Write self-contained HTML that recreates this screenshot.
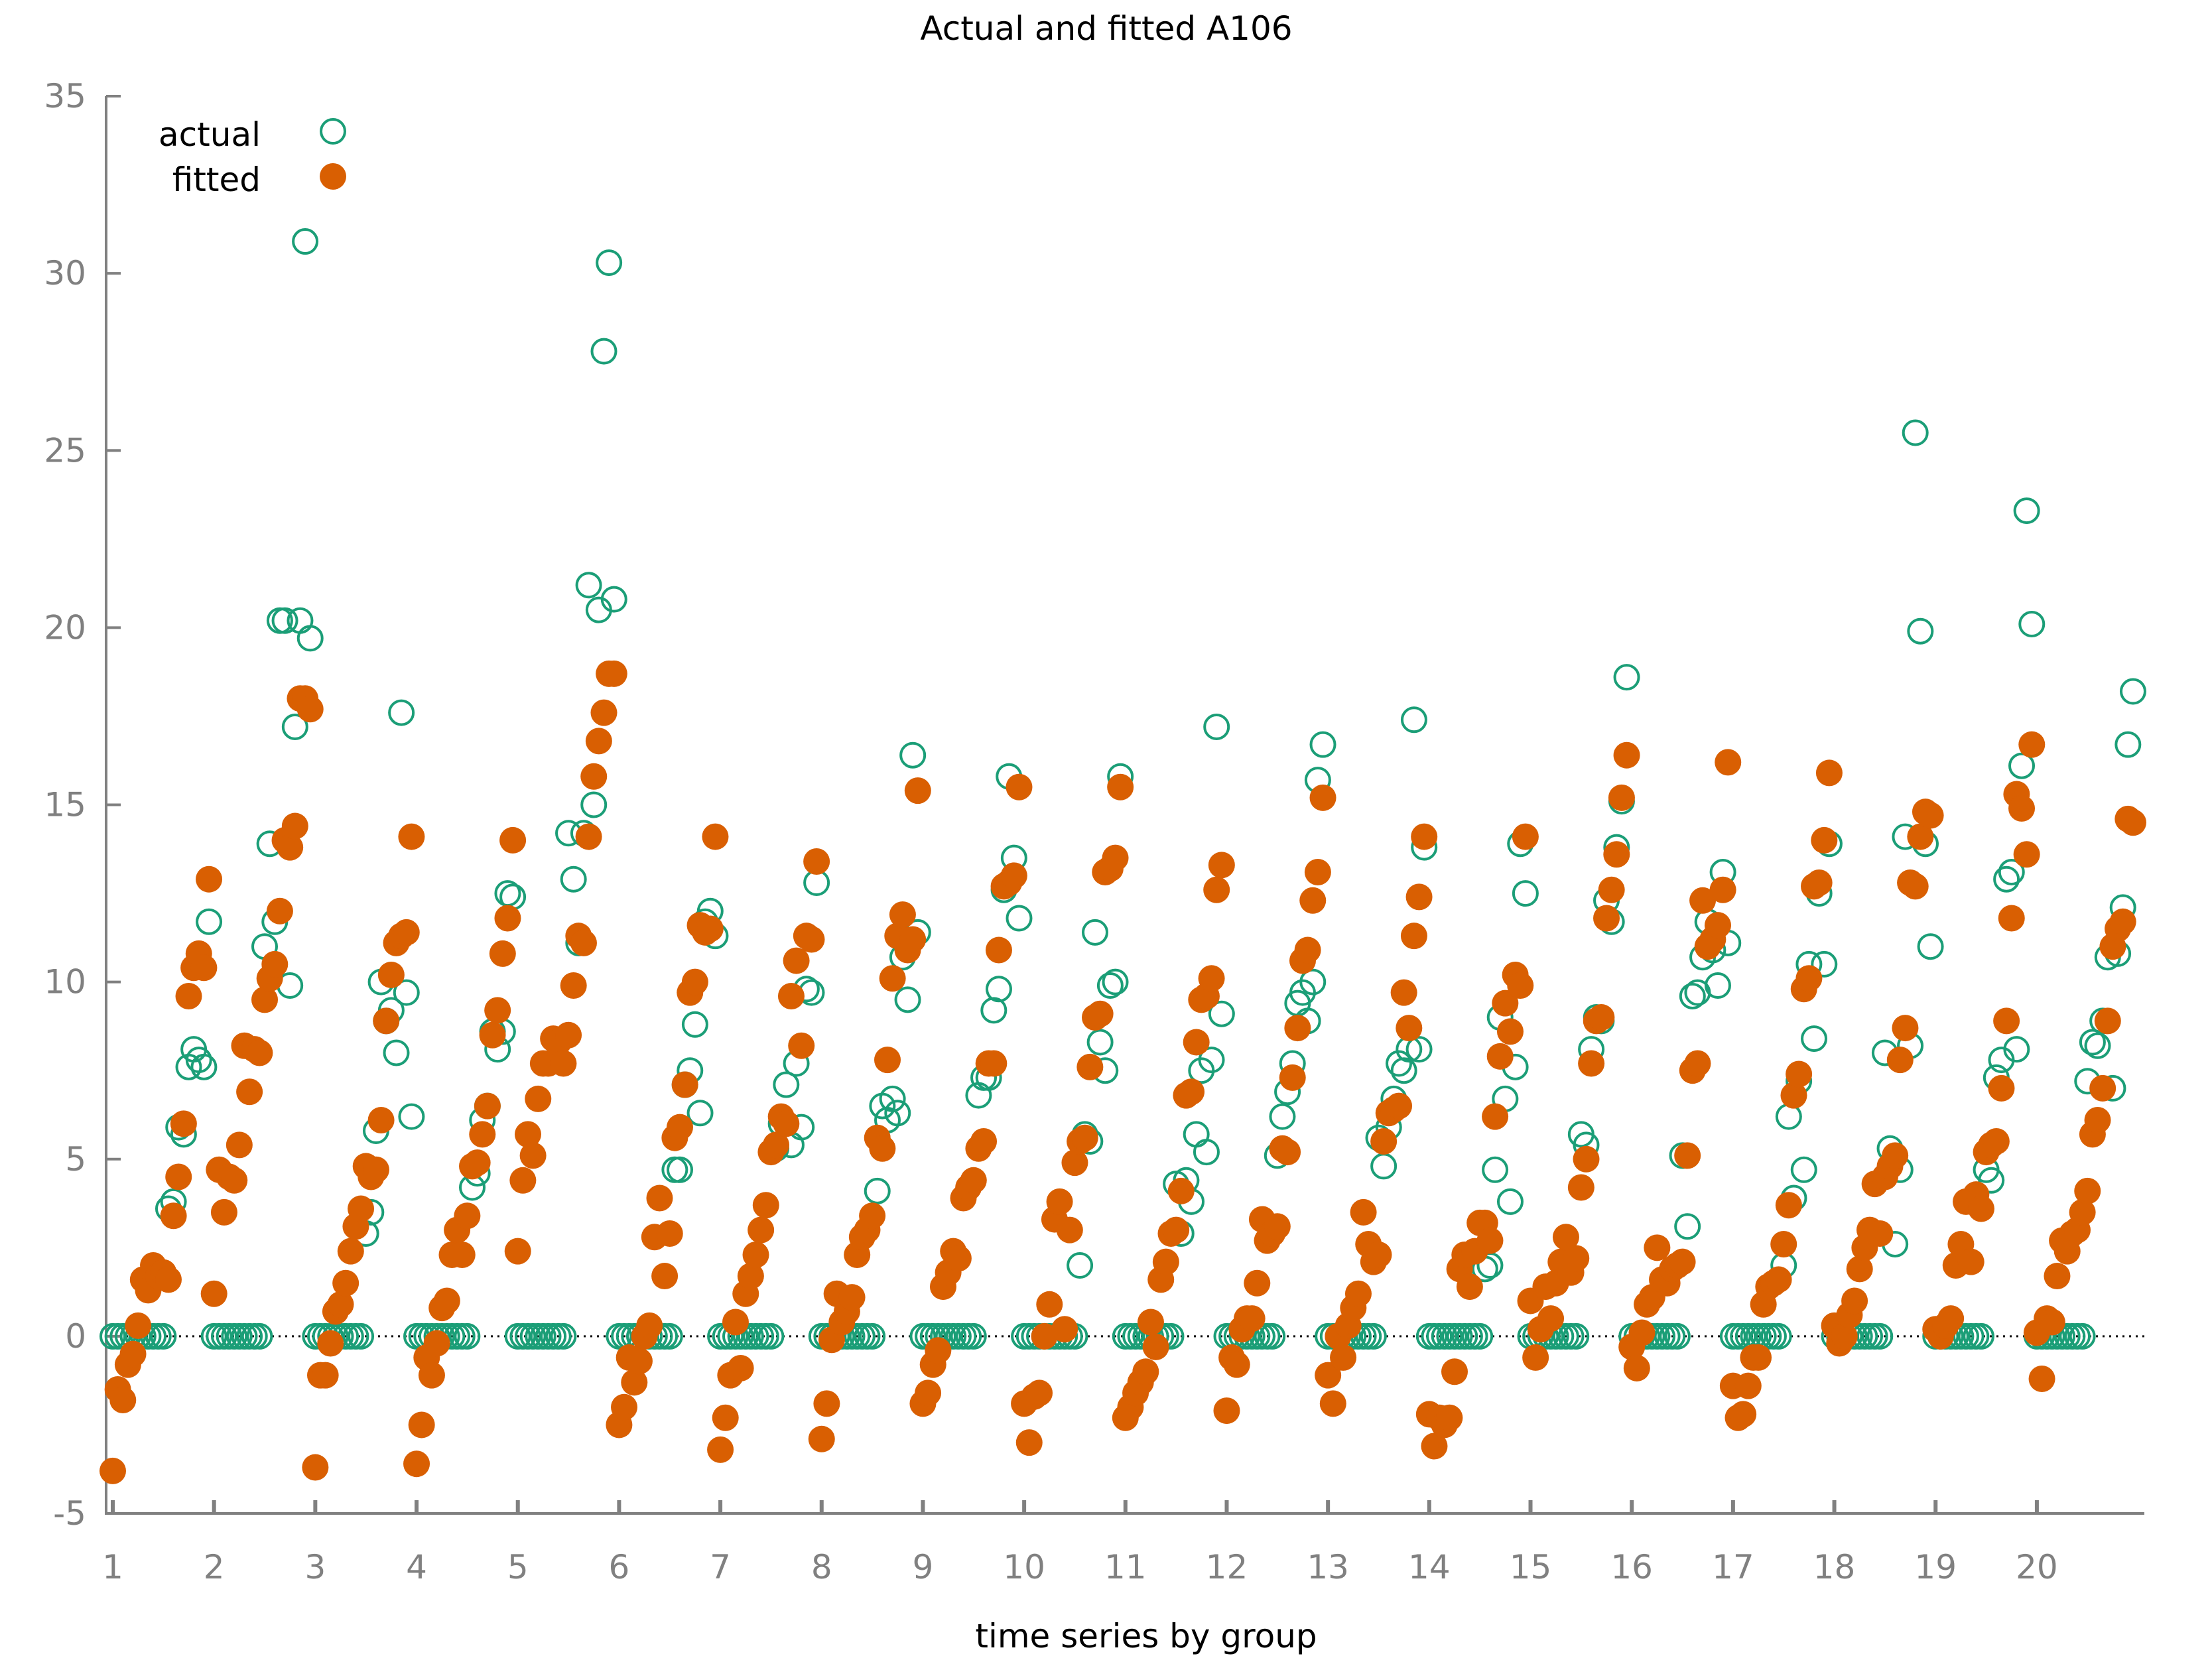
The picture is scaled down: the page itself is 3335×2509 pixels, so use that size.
<!DOCTYPE html>
<html><head><meta charset="utf-8"><style>
html,body{margin:0;padding:0;background:#fff;}
svg{display:block;font-family:"DejaVu Sans","Liberation Sans",sans-serif;}
</style></head><body>
<svg id="chart" width="3335" height="2509" viewBox="0 0 3335 2509" xmlns="http://www.w3.org/2000/svg">
<text x="1668" y="60" font-size="50" text-anchor="middle" fill="#000">Actual and fitted A106</text>
<text x="1728" y="2484" font-size="50" text-anchor="middle" fill="#000">time series by group</text>
<g id="axes"></g>
<g id="actual-layer"></g>
<g id="fitted-layer"></g>
<g>
<text x="393" y="220" font-size="50" text-anchor="end" fill="#000">actual</text>
<circle cx="502" cy="198" r="18" fill="none" stroke="#1b9e77" stroke-width="4"/>
<text x="393" y="288" font-size="50" text-anchor="end" fill="#000">fitted</text>
<circle cx="502" cy="266" r="20" fill="#d95f02"/>
</g>
</svg>
<script>
const groupLabels = ["1","2","3","4","5","6","7","8","9","10","11","12","13","14","15","16","17","18","19","20"];
const yTicks = [-5,0,5,10,15,20,25,30,35];
const actualG1 = [0,0,0,0,0,0,0,0,0,0,0,3.6,3.8,5.9,5.7,7.6,8.1,7.8,7.6,11.7];
const actualG2 = [0,0,0,0,0,0,0,0,0,0,11.0,13.9,11.7,20.2,20.2,9.9,17.2,20.2,30.9,19.7];
const actualG3 = [0,0,0,0,0,0,0,0,0,0,2.9,3.5,5.8,10.0,8.9,9.2,8.0,17.6,9.7,6.2];
const actualG4 = [0,0,0,0,0,0,0,0,0,0,0,4.2,4.6,6.1,6.5,8.6,8.1,8.6,12.5,12.4];
const actualG5 = [0,0,0,0,0,0,0,0,0,0,14.2,12.9,11.1,14.2,21.2,15.0,20.5,27.8,30.3,20.8];
const actualG6 = [0,0,0,0,0,0,0,0,0,0,0,4.7,4.7,7.1,7.5,8.8,6.3,11.7,12.0,11.3];
const actualG7 = [0,0,0,0,0,0,0,0,0,0,0,5.3,6.0,7.1,5.4,7.7,5.9,9.8,9.7,12.8];
const actualG8 = [0,0,0,0,0,0,0,0,0,0,0,4.1,6.5,6.1,6.7,6.3,10.7,9.5,16.4,11.4];
const actualG9 = [0,0,0,0,0,0,0,0,0,0,0,6.8,7.3,7.3,9.2,9.8,12.6,15.8,13.5,11.8];
const actualG10 = [0,0,0,0,0,0,0,0,0,0,0,2.0,5.7,5.5,11.4,8.3,7.5,9.9,10.0,15.8];
const actualG11 = [0,0,0,0,0,0,0,0,0,0,4.3,2.9,4.4,3.8,5.7,7.5,5.2,7.8,17.2,9.1];
const actualG12 = [0,0,0,0,0,0,0,0,0,0,5.1,6.2,6.9,7.7,9.4,9.7,8.9,10.0,15.7,16.7];
const actualG13 = [0,0,0,0,0,0,0,0,0,0,5.6,4.8,5.9,6.7,7.7,7.5,8.1,17.4,8.1,13.8];
const actualG14 = [0,0,0,0,0,0,0,0,0,0,0,1.9,2.0,4.7,9.0,6.7,3.8,7.6,13.9,12.5];
const actualG15 = [0,0,0,0,0,0,0,0,0,0,5.7,5.4,8.1,9.0,8.9,12.3,11.7,13.8,15.1,18.6];
const actualG16 = [0,0,0,0,0,0,0,0,0,0,5.1,3.1,9.6,9.7,10.7,11.7,10.9,9.9,13.1,11.1];
const actualG17 = [0,0,0,0,0,0,0,0,0,0,2.0,6.2,3.9,7.2,4.7,10.5,8.4,12.5,10.5,13.9];
const actualG18 = [0,0,0,0,0,0,0,0,0,0,8.0,5.3,2.6,4.7,14.1,8.2,25.5,19.9,13.9,11.0];
const actualG19 = [0,0,0,0,0,0,0,0,0,0,4.7,4.4,7.3,7.8,12.9,13.1,8.1,16.1,23.3,20.1];
const actualG20 = [0,0,0,0,0,0,0,0,0,0,7.2,8.3,8.2,8.9,10.7,7.0,10.8,12.1,16.7,18.2];
const fittedG1 = [-3.8,-1.5,-1.8,-0.8,-0.5,0.3,1.6,1.3,2.0,1.7,1.8,1.6,3.4,4.5,6.0,9.6,10.4,10.8,10.4,12.9];
const fittedG2 = [1.2,4.7,3.5,4.5,4.4,5.4,8.2,6.9,8.1,8.0,9.5,10.1,10.5,12.0,14.0,13.8,14.4,18.0,18.0,17.7];
const fittedG3 = [-3.7,-1.1,-1.1,-0.2,0.7,0.9,1.5,2.4,3.1,3.6,4.8,4.5,4.7,6.1,8.9,10.2,11.1,11.3,11.4,14.1];
const fittedG4 = [-3.6,-2.5,-0.6,-1.1,-0.2,0.8,1.0,2.3,3.0,2.3,3.4,4.8,4.9,5.7,6.5,8.5,9.2,10.8,11.8,14.0];
const fittedG5 = [2.4,4.4,5.7,5.1,6.7,7.7,7.7,8.4,8.3,7.7,8.5,9.9,11.3,11.1,14.1,15.8,16.8,17.6,18.7,18.7];
const fittedG6 = [-2.5,-2.0,-0.6,-1.3,-0.7,0.0,0.3,2.8,3.9,1.7,2.9,5.6,5.9,7.1,9.7,10.0,11.6,11.4,11.5,14.1];
const fittedG7 = [-3.2,-2.3,-1.1,0.4,-0.9,1.2,1.7,2.3,3.0,3.7,5.2,5.4,6.2,6.0,9.6,10.6,8.2,11.3,11.2,13.4];
const fittedG8 = [-2.9,-1.9,-0.1,1.2,0.4,0.7,1.1,2.3,2.8,3.0,3.4,5.6,5.3,7.8,10.1,11.3,11.9,10.9,11.2,15.4];
const fittedG9 = [-1.9,-1.6,-0.8,-0.4,1.4,1.8,2.4,2.2,3.9,4.2,4.4,5.3,5.5,7.7,7.7,10.9,12.7,12.8,13.0,15.5];
const fittedG10 = [-1.9,-3.0,-1.7,-1.6,0.0,0.9,3.3,3.8,0.2,3.0,4.9,5.5,5.6,7.6,9.0,9.1,13.1,13.2,13.5,15.5];
const fittedG11 = [-2.3,-2.0,-1.6,-1.3,-1.0,0.4,-0.3,1.6,2.1,2.9,3.0,4.1,6.8,6.9,8.3,9.5,9.6,10.1,12.6,13.3];
const fittedG12 = [-2.1,-0.6,-0.8,0.2,0.5,0.5,1.5,3.3,2.7,2.9,3.1,5.3,5.2,7.3,8.7,10.6,10.9,12.3,13.1,15.2];
const fittedG13 = [-1.1,-1.9,0.0,-0.6,0.3,0.8,1.2,3.5,2.6,2.1,2.3,5.5,6.3,6.4,6.5,9.7,8.7,11.3,12.4,14.1];
const fittedG14 = [-2.2,-3.1,-2.3,-2.5,-2.3,-1.0,1.9,2.3,1.4,2.4,3.2,3.2,2.7,6.2,7.9,9.4,8.6,10.2,9.9,14.1];
const fittedG15 = [1.0,-0.6,0.2,1.4,0.5,1.5,2.1,2.8,1.8,2.2,4.2,5.0,7.7,8.9,9.0,11.8,12.6,13.6,15.2,16.4];
const fittedG16 = [-0.3,-0.9,0.1,0.9,1.1,2.5,1.6,1.5,1.9,2.0,2.1,5.1,7.5,7.7,12.3,11.0,11.2,11.6,12.6,16.2];
const fittedG17 = [-1.4,-2.3,-2.2,-1.4,-0.6,-0.6,0.9,1.4,1.5,1.6,2.6,3.7,6.8,7.4,9.8,10.1,12.7,12.8,14.0,15.9];
const fittedG18 = [0.3,-0.2,0.0,0.6,1.0,1.9,2.5,3.0,4.3,2.9,4.5,4.8,5.1,7.8,8.7,12.8,12.7,14.1,14.8,14.7];
const fittedG19 = [0.2,0.0,0.3,0.5,2.0,2.6,3.8,2.1,4.0,3.6,5.2,5.4,5.5,7.0,8.9,11.8,15.3,14.9,13.6,16.7];
const fittedG20 = [0.1,-1.2,0.5,0.4,1.7,2.7,2.4,2.9,3.0,3.5,4.1,5.7,6.1,7.0,8.9,11.0,11.5,11.7,14.6,14.5];

const actualGroups = [actualG1,actualG2,actualG3,actualG4,actualG5,actualG6,actualG7,actualG8,actualG9,actualG10,actualG11,actualG12,actualG13,actualG14,actualG15,actualG16,actualG17,actualG18,actualG19,actualG20];
const fittedGroups = [fittedG1,fittedG2,fittedG3,fittedG4,fittedG5,fittedG6,fittedG7,fittedG8,fittedG9,fittedG10,fittedG11,fittedG12,fittedG13,fittedG14,fittedG15,fittedG16,fittedG17,fittedG18,fittedG19,fittedG20];

const NS = "http://www.w3.org/2000/svg";
const PER = 20;
const L = 160, R = 3233, T = 145, B = 2282;
const X0 = 170, XSTEP = 7.634;
const yMin = -5, yMax = 35;
function xScale(i){ return X0 + XSTEP * i; }
function yScale(v){ return B - (v - yMin) / (yMax - yMin) * (B - T); }
function mk(tag, attrs, parent){ const e = document.createElementNS(NS, tag); for (const k in attrs) e.setAttribute(k, attrs[k]); parent.appendChild(e); return e; }

const axes = document.getElementById('axes');
const zl = mk('line', {x1:L, x2:R, y1:yScale(0), y2:yScale(0), stroke:'#000', 'stroke-width':3, 'stroke-dasharray':'3 7'}, axes);


const ya = mk('line', {x1:L, x2:L, y1:T, y2:B, stroke:'#808080', 'stroke-width':4}, axes);


const xa = mk('line', {x1:L-2, x2:R, y1:B, y2:B, stroke:'#808080', 'stroke-width':4}, axes);


yTicks.forEach(v => {
  const y = yScale(v);
  const t = mk('line', {x1:L, x2:L+22, y1:y, y2:y, stroke:'#808080', 'stroke-width':4}, axes);
  
  
  const lb = mk('text', {x:130, y:y+17, 'font-size':50, 'text-anchor':'end', fill:'#808080'}, axes);
  lb.textContent = String(v);
  
  
});
groupLabels.forEach((lab, g) => {
  const x = xScale(g * PER);
  const t = mk('line', {x1:x, x2:x, y1:B, y2:B-20, stroke:'#808080', 'stroke-width':6}, axes);
  
  
  const lb = mk('text', {x:x, y:2380, 'font-size':50, 'text-anchor':'middle', fill:'#808080'}, axes);
  lb.textContent = lab;
  
  
});

const aL = document.getElementById('actual-layer');
actualGroups.forEach((arr, g) => arr.forEach((v, j) => {
  const c = mk('circle', {cx:xScale(g*PER+j), cy:yScale(v), r:18, fill:'none', stroke:'#1b9e77', 'stroke-width':4}, aL);
  
  
}));
const fL = document.getElementById('fitted-layer');
fittedGroups.forEach((arr, g) => arr.forEach((v, j) => {
  const c = mk('circle', {cx:xScale(g*PER+j), cy:yScale(v), r:20, fill:'#d95f02'}, fL);
  
  
}));
</script>
</body></html>
